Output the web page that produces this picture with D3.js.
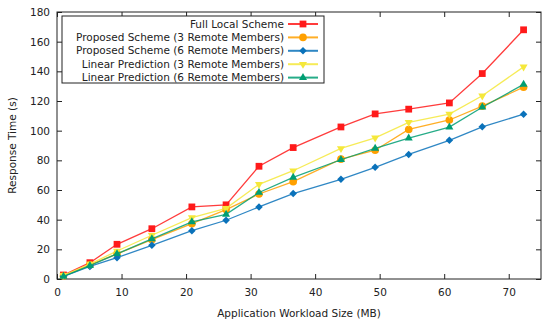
<!DOCTYPE html>
<html>
<head>
<meta charset="utf-8">
<script src="https://cdn.jsdelivr.net/npm/d3@7"></script>
<style>
  body { margin: 0; background: #fff; }
  text { font-family: "DejaVu Sans", Verdana, sans-serif; fill: #222; }
</style>
</head>
<body>
<div id="chart"></div>
<script>
// workload sizes (MB)
const workload = [1, 5.1, 9.3, 14.7, 20.9, 26.2, 31.3, 36.6, 44, 49.3, 54.5, 60.8, 65.9, 72.3];

const fullLocal   = [2.7, 11, 23.4, 33.9, 48.6, 50, 76, 88.6, 102.5, 111.3, 114.5, 118.7, 138.5, 168];
const proposed3   = [2, 9.5, 17, 26.5, 37.3, 46.8, 57.3, 65.6, 80.8, 86.8, 100.8, 107.2, 116.5, 129.3];
const proposed6   = [1.8, 8.5, 14.4, 22.7, 32.6, 39.6, 48.6, 57.6, 67.2, 75.3, 84, 93.5, 102.6, 111.1];
const linear3     = [2.5, 10, 18.9, 29.5, 41.4, 47.6, 63.8, 73, 88, 95.2, 105.6, 111.2, 123.5, 143];
const linear6     = [1.8, 9, 17, 27, 38.5, 43.6, 58.3, 68.5, 80.4, 88, 95, 102.4, 115.8, 131.2];

const seriesNames = [
  "Full Local Scheme",
  "Proposed Scheme (3 Remote Members)",
  "Proposed Scheme (6 Remote Members)",
  "Linear Prediction (3 Remote Members)",
  "Linear Prediction (6 Remote Members)"
];
const seriesValues = [fullLocal, proposed3, proposed6, linear3, linear6];
const seriesColors = ["#ff1a1a", "#ffa000", "#0a72ba", "#f5e83a", "#009e73"];
const seriesSymbols = [d3.symbolSquare, d3.symbolCircle, d3.symbolDiamond2, "down", d3.symbolTriangle2];

const xTicks = [0, 10, 20, 30, 40, 50, 60, 70];
const yTicks = [0, 20, 40, 60, 80, 100, 120, 140, 160, 180];

const width = 550, height = 327;
const margin = {top: 12, right: 9, bottom: 48, left: 57};

const svg = d3.select("#chart").append("svg")
    .attr("width", width)
    .attr("height", height);

const x = d3.scaleLinear().domain([0, 75]).range([margin.left, width - margin.right]);
const y = d3.scaleLinear().domain([0, 180]).range([height - margin.bottom, margin.top]);

// inward ticks on all four sides, like gnuplot mirror
const tick = 5;
svg.append("g")
    .attr("transform", `translate(0,${y(0)})`)
    .call(d3.axisBottom(x).tickValues(xTicks).tickSizeInner(-tick).tickSizeOuter(0).tickPadding(10))
    .call(g => g.select(".domain").remove());
svg.append("g")
    .attr("transform", `translate(0,${y(180)})`)
    .call(d3.axisTop(x).tickValues(xTicks).tickSizeInner(-tick).tickSizeOuter(0).tickFormat(""))
    .call(g => g.select(".domain").remove());
svg.append("g")
    .attr("transform", `translate(${x(0)},0)`)
    .call(d3.axisLeft(y).tickValues(yTicks).tickSizeInner(-tick).tickSizeOuter(0).tickPadding(7))
    .call(g => g.select(".domain").remove());
svg.append("g")
    .attr("transform", `translate(${x(75)},0)`)
    .call(d3.axisRight(y).tickValues(yTicks).tickSizeInner(-tick).tickSizeOuter(0).tickFormat(""))
    .call(g => g.select(".domain").remove());

svg.selectAll(".tick text")
    .attr("font-size", 10.5)
    .attr("font-family", "DejaVu Sans, Verdana, sans-serif")
    .attr("fill", "#222");
svg.selectAll(".tick line").attr("stroke", "#222");

svg.append("rect")
    .attr("x", x(0)).attr("y", y(180))
    .attr("width", x(75) - x(0)).attr("height", y(0) - y(180))
    .attr("fill", "none").attr("stroke", "#222").attr("stroke-width", 1);

function marker(sel, i, size) {
  const s = seriesSymbols[i];
  if (s === "down") {
    sel.append("path")
      .attr("d", d3.symbol(d3.symbolTriangle2, size)())
      .attr("transform", "rotate(180)");
  } else {
    sel.append("path").attr("d", d3.symbol(s, size)());
  }
}

const line = d3.line().x((d, i) => x(workload[i])).y(d => y(d));

seriesValues.forEach((vals, i) => {
  const g = svg.append("g");
  g.append("path")
    .datum(vals)
    .attr("d", line)
    .attr("fill", "none")
    .attr("stroke", seriesColors[i])
    .attr("stroke-opacity", 0.85)
    .attr("stroke-width", 1.3);
  vals.forEach((v, j) => {
    const m = g.append("g")
      .attr("transform", `translate(${x(workload[j])},${y(v)})`)
      .attr("fill", seriesColors[i]);
    marker(m, i, i === 2 ? 36 : 46);
  });
});

// legend
const legend = svg.append("g");
legend.append("rect")
    .attr("x", 62).attr("y", 16)
    .attr("width", 262).attr("height", 67)
    .attr("fill", "#fff").attr("stroke", "#222").attr("stroke-width", 1);

seriesNames.forEach((name, i) => {
  const ly = 24 + i * 13.4;
  legend.append("text")
    .attr("x", 284).attr("y", ly)
    .attr("dy", "0.35em")
    .attr("text-anchor", "end")
    .attr("font-size", 10.5)
    .text(name);
  legend.append("line")
    .attr("x1", 288).attr("x2", 318)
    .attr("y1", ly).attr("y2", ly)
    .attr("stroke", seriesColors[i])
    .attr("stroke-opacity", 0.85)
    .attr("stroke-width", 2);
  const m = legend.append("g")
    .attr("transform", `translate(303,${ly})`)
    .attr("fill", seriesColors[i]);
  marker(m, i, i === 2 ? 36 : 46);
});

// axis titles
svg.append("text")
    .attr("x", (x(0) + x(75)) / 2).attr("y", 317)
    .attr("text-anchor", "middle")
    .attr("font-size", 10.5)
    .text("Application Workload Size (MB)");
svg.append("text")
    .attr("transform", `translate(16,${(y(0) + y(180)) / 2}) rotate(-90)`)
    .attr("text-anchor", "middle")
    .attr("font-size", 10.5)
    .text("Response Time (s)");
</script>
</body>
</html>
